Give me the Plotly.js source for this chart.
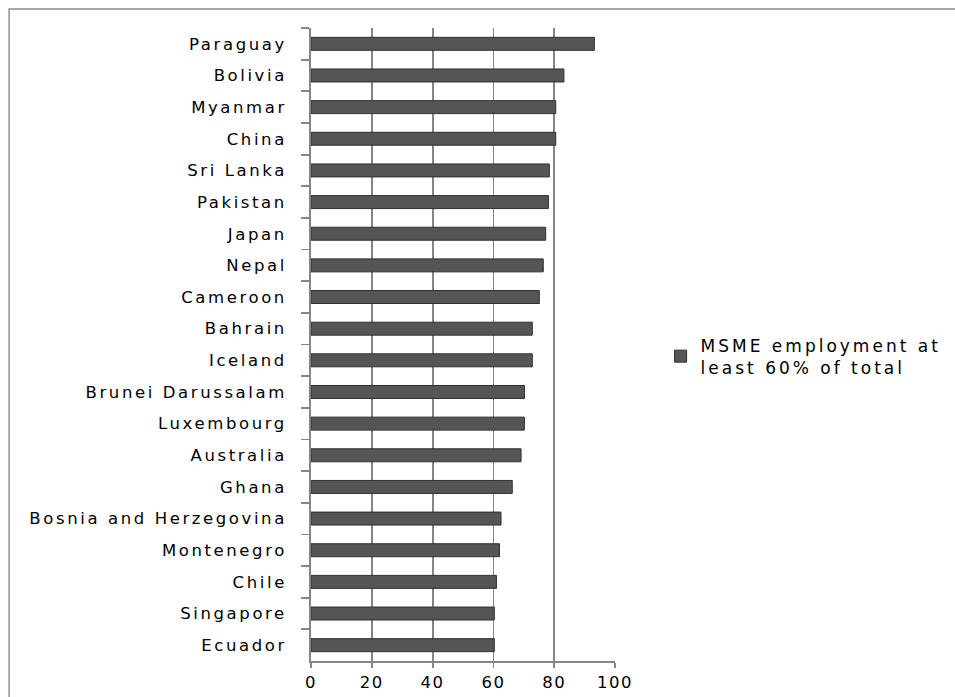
<!DOCTYPE html>
<html>
<head>
<meta charset="utf-8">
<script src="https://cdn.plot.ly/plotly-3.0.1.min.js"></script>
<style>
html,body{margin:0;padding:0;background:#fff;}
#chart{width:955px;height:697px;}
#chart .ytick text {letter-spacing: 2.6px;}
.legendtext {letter-spacing: 3px;}
#chart .xtick text {letter-spacing: 1.5px;}
</style>
</head>
<body>
<div id="chart"></div>
<script>
const countries = ["Paraguay","Bolivia","Myanmar","China","Sri Lanka","Pakistan","Japan","Nepal","Cameroon","Bahrain","Iceland","Brunei Darussalam","Luxembourg","Australia","Ghana","Bosnia and Herzegovina","Montenegro","Chile","Singapore","Ecuador"];
const shares = [93.2,83.2,80.5,80.5,78.4,78.1,77.2,76.4,75.1,72.8,72.8,70.2,70.2,69.1,66.2,62.5,62.0,61.0,60.3,60.3];
const seriesName = "MSME employment at<br>least 60% of total";
const xTicks = [0,20,40,60,80,100];

const FONT = "DejaVu Sans, Verdana, sans-serif";

const trace = {
  type: "bar",
  orientation: "h",
  y: countries,
  x: shares,
  name: seriesName,
  marker: {color: "#555555", line: {color: "#2f2f2f", width: 1}},
  showlegend: true,
  hoverinfo: "x+y"
};

const layout = {
  width: 955, height: 697,
  margin: {l: 311, r: 340, t: 28, b: 36, autoexpand: false},
  paper_bgcolor: "#fff", plot_bgcolor: "#fff",
  font: {family: FONT, size: 16, color: "#000"},
  bargap: 0.59,
  showlegend: true,
  legend: {
    x: 1.15, y: 0.481, xanchor: "left", yanchor: "middle",
    font: {family: FONT, size: 17, color: "#000"},
    bgcolor: "rgba(0,0,0,0)", itemwidth: 30, tracegroupgap: 0
  },
  xaxis: {
    range: [0, 100], tickvals: xTicks, ticktext: xTicks.map(String),
    showgrid: true, gridcolor: "#858585", gridwidth: 1.8,
    showline: true, linecolor: "#858585", linewidth: 1.8,
    ticks: "outside", ticklen: 5, tickcolor: "#858585", tickwidth: 1.8,
    zeroline: false, tickfont: {family: FONT, size: 16.5, color: "#000"},
    fixedrange: true
  },
  yaxis: {
    type: "category", autorange: "reversed",
    showline: true, linecolor: "#858585", linewidth: 1.8,
    ticks: "outside", tickson: "boundaries", ticklen: 8, tickcolor: "#858585", tickwidth: 1.8,
    ticklabelstandoff: 19,
    showgrid: false, zeroline: false,
    tickfont: {family: FONT, size: 16.5, color: "#000"},
    fixedrange: true
  },
  shapes: [{
    type: "rect", xref: "paper", yref: "paper",
    x0: -0.993, x1: 2.5, y0: -0.5, y1: 1.030,
    line: {color: "#8a8a8a", width: 1.4}, fillcolor: "rgba(0,0,0,0)", layer: "below"
  }]
};

Plotly.newPlot("chart", [trace], layout, {displayModeBar: false, staticPlot: true});
</script>
</body>
</html>
